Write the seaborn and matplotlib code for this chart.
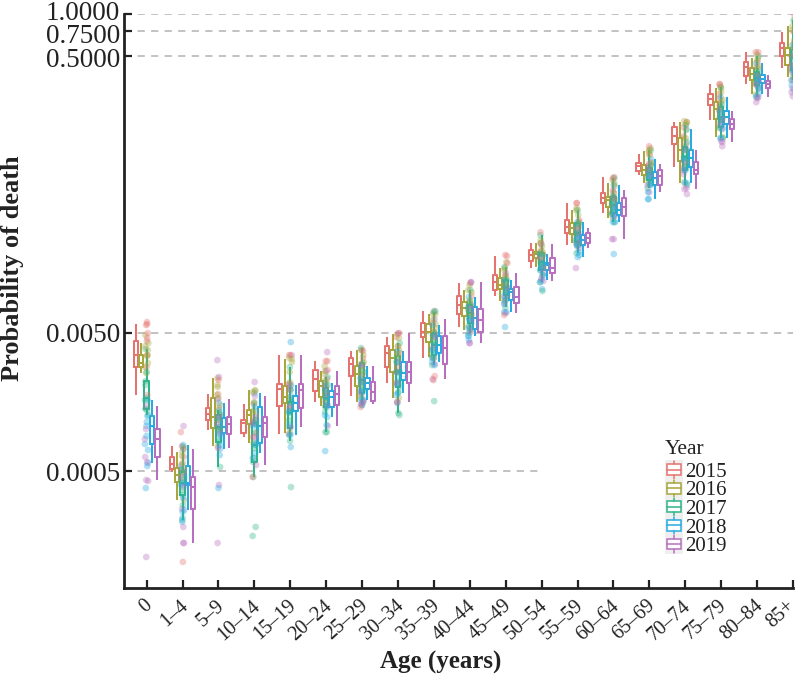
import numpy as np
import pandas as pd
import matplotlib.pyplot as plt
import seaborn as sns
from matplotlib.legend_handler import HandlerBase
from matplotlib.lines import Line2D
from matplotlib.patches import Patch, Rectangle
from matplotlib.transforms import ScaledTranslation

ages = ['0', '1–4', '5–9', '10–14', '15–19', '20–24', '25–29', '30–34', '35–39', '40–44',
        '45–49', '50–54', '55–59', '60–64', '65–69', '70–74', '75–79', '80–84', '85+']
years = ['2015', '2016', '2017', '2018', '2019']
colors = ['#E5736F', '#A8A63C', '#2FB58A', '#29ABE2', '#B96FC0']

# log10 of the probability, one row per age: whisker top, q3, median, q1, whisker bottom
y2015 = [[-2.240, -2.362, -2.464, -2.550, -2.752], [-3.121, -3.200, -3.251, -3.287, -3.308],
         [-2.745, -2.846, -2.890, -2.933, -3.005], [-2.817, -2.933, -2.954, -3.027, -3.056],
         [-2.464, -2.673, -2.709, -2.832, -3.034], [-2.507, -2.572, -2.637, -2.723, -2.803],
         [-2.435, -2.485, -2.528, -2.615, -2.760], [-2.334, -2.399, -2.449, -2.550, -2.666],
         [-2.146, -2.233, -2.297, -2.334, -2.485], [-1.944, -2.038, -2.103, -2.168, -2.261],
         [-1.749, -1.886, -1.937, -1.994, -2.038], [-1.655, -1.705, -1.741, -1.785, -1.835],
         [-1.366, -1.489, -1.539, -1.583, -1.669], [-1.178, -1.294, -1.330, -1.366, -1.438],
         [-1.012, -1.077, -1.099, -1.135, -1.164], [-0.781, -0.817, -0.882, -0.940, -1.106],
         [-0.507, -0.579, -0.615, -0.658, -0.767], [-0.276, -0.348, -0.384, -0.449, -0.507],
         [-0.131, -0.211, -0.247, -0.305, -0.391]]
y2016 = [[-2.377, -2.464, -2.521, -2.550, -2.594], [-3.164, -3.280, -3.330, -3.380, -3.510],
         [-2.630, -2.774, -2.911, -2.991, -3.121], [-2.716, -2.861, -2.897, -2.962, -3.099],
         [-2.492, -2.687, -2.767, -2.810, -3.027], [-2.579, -2.651, -2.687, -2.767, -2.832],
         [-2.427, -2.543, -2.601, -2.687, -2.803], [-2.312, -2.427, -2.485, -2.586, -2.774],
         [-2.168, -2.240, -2.297, -2.370, -2.478], [-1.994, -2.081, -2.124, -2.182, -2.283],
         [-1.835, -1.907, -1.958, -1.987, -2.074], [-1.655, -1.720, -1.734, -1.763, -1.828],
         [-1.417, -1.511, -1.547, -1.590, -1.655], [-1.222, -1.323, -1.344, -1.395, -1.474],
         [-0.991, -1.092, -1.128, -1.164, -1.222], [-0.781, -0.897, -0.983, -1.063, -1.222],
         [-0.536, -0.637, -0.687, -0.760, -0.890], [-0.319, -0.391, -0.435, -0.478, -0.579],
         [-0.088, -0.247, -0.298, -0.370, -0.456]]
y2017 = [[-2.420, -2.651, -2.774, -2.853, -2.897], [-3.128, -3.308, -3.388, -3.474, -3.655],
         [-2.861, -2.897, -2.983, -3.092, -3.272], [-2.810, -2.954, -3.113, -3.236, -3.344],
         [-2.550, -2.803, -2.882, -2.991, -3.084], [-2.622, -2.702, -2.774, -2.839, -3.020],
         [-2.413, -2.521, -2.644, -2.738, -2.825], [-2.377, -2.471, -2.586, -2.695, -2.882],
         [-2.153, -2.305, -2.391, -2.464, -2.536], [-1.994, -2.103, -2.160, -2.233, -2.305],
         [-1.828, -1.922, -1.973, -2.030, -2.117], [-1.597, -1.727, -1.792, -1.850, -1.937],
         [-1.417, -1.511, -1.583, -1.648, -1.727], [-1.186, -1.323, -1.380, -1.438, -1.503],
         [-0.983, -1.113, -1.149, -1.200, -1.258], [-0.803, -0.962, -1.034, -1.128, -1.236],
         [-0.529, -0.673, -0.745, -0.817, -0.897], [-0.305, -0.420, -0.464, -0.514, -0.601],
         [-0.045, -0.261, -0.319, -0.406, -0.478]]
y2018 = [[-2.788, -2.904, -2.976, -3.106, -3.243], [-3.113, -3.265, -3.388, -3.402, -3.583],
         [-2.810, -2.918, -2.983, -3.027, -3.142], [-2.738, -2.839, -2.976, -3.099, -3.171],
         [-2.680, -2.760, -2.810, -2.868, -3.041], [-2.666, -2.723, -2.767, -2.839, -2.911],
         [-2.543, -2.630, -2.666, -2.709, -2.788], [-2.435, -2.514, -2.594, -2.644, -2.738],
         [-2.247, -2.326, -2.391, -2.449, -2.514], [-2.045, -2.117, -2.196, -2.276, -2.326],
         [-1.922, -1.987, -2.009, -2.066, -2.153], [-1.734, -1.799, -1.814, -1.850, -1.922],
         [-1.503, -1.597, -1.633, -1.669, -1.756], [-1.236, -1.366, -1.417, -1.453, -1.503],
         [-1.048, -1.142, -1.186, -1.236, -1.337], [-0.832, -0.983, -1.041, -1.106, -1.222],
         [-0.601, -0.702, -0.745, -0.796, -0.897], [-0.355, -0.442, -0.471, -0.500, -0.579],
         [-0.225, -0.334, -0.377, -0.420, -0.514]]
y2019 = [[-2.832, -2.998, -3.070, -3.200, -3.366], [-3.142, -3.344, -3.417, -3.575, -3.821],
         [-2.781, -2.911, -2.962, -3.034, -3.135], [-2.760, -2.911, -2.954, -3.056, -3.258],
         [-2.464, -2.673, -2.716, -2.846, -2.983], [-2.579, -2.687, -2.745, -2.825, -2.976],
         [-2.543, -2.658, -2.731, -2.796, -2.817], [-2.305, -2.514, -2.586, -2.666, -2.803],
         [-2.204, -2.326, -2.413, -2.528, -2.637], [-1.937, -2.131, -2.211, -2.297, -2.377],
         [-1.871, -1.973, -2.045, -2.088, -2.160], [-1.662, -1.763, -1.835, -1.871, -1.929],
         [-1.547, -1.583, -1.619, -1.655, -1.691], [-1.272, -1.330, -1.395, -1.460, -1.626],
         [-1.084, -1.128, -1.171, -1.236, -1.287], [-0.983, -1.070, -1.128, -1.157, -1.265],
         [-0.702, -0.760, -0.796, -0.832, -0.926], [-0.442, -0.485, -0.507, -0.536, -0.601],
         [-0.298, -0.370, -0.420, -0.478, -0.565]]

# dots read from the crowded column of each age group, log10, one row per age
dense_2016 = [[-2.319, -2.399, -2.471], [-3.135, -3.193, -3.243], [-2.680, -2.752, -2.825], [-2.731, -2.803, -2.875],
              [-2.514, -2.586, -2.658], [-2.543, -2.601, -2.658], [-2.464, -2.514, -2.572], [-2.341, -2.399, -2.456],
              [-2.168, -2.211, -2.269], [-1.958, -2.009, -2.066], [-1.792, -1.850, -1.893], [-1.633, -1.677, -1.720],
              [-1.402, -1.453, -1.503], [-1.200, -1.243, -1.287], [-0.969, -1.019, -1.070], [-0.796, -0.839, -0.897],
              [-0.521, -0.565, -0.622], [-0.290, -0.334, -0.377], [-0.045, -0.117, -0.189]]
dense_2017 = [[-2.586, -2.680, -2.788, -2.861], [-3.294, -3.352, -3.438, -3.547], [-2.875, -2.933, -3.005, -3.077],
              [-2.933, -3.020, -3.135, -3.207], [-2.716, -2.788, -2.861, -2.933], [-2.680, -2.738, -2.803, -2.875],
              [-2.586, -2.658, -2.716, -2.774], [-2.514, -2.586, -2.658, -2.731], [-2.319, -2.370, -2.427, -2.485],
              [-2.081, -2.139, -2.196, -2.254], [-1.922, -1.965, -2.009, -2.066], [-1.741, -1.792, -1.835, -1.886],
              [-1.525, -1.575, -1.619, -1.669], [-1.316, -1.359, -1.402, -1.446], [-1.092, -1.142, -1.186, -1.229],
              [-0.926, -0.983, -1.041, -1.099], [-0.651, -0.709, -0.767, -0.825], [-0.406, -0.449, -0.492, -0.536],
              [-0.225, -0.298, -0.370, -0.442]]
dense_2018 = [[-2.947, -3.048, -3.149], [-3.496, -3.597, -3.669], [-3.048, -3.113, -3.186], [-2.969, -3.113, -3.207],
              [-2.875, -2.969, -3.041], [-2.825, -2.897, -2.969], [-2.731, -2.788, -2.825], [-2.680, -2.752, -2.810],
              [-2.427, -2.485, -2.536], [-2.211, -2.269, -2.326], [-2.038, -2.095, -2.153], [-1.835, -1.886, -1.937],
              [-1.619, -1.677, -1.720], [-1.402, -1.460, -1.503], [-1.171, -1.229, -1.287], [-1.056, -1.128, -1.214],
              [-0.767, -0.825, -0.897], [-0.478, -0.536, -0.594], [-0.406, -0.478, -0.550]]

# stray points outside the boxes, log10 again
out_age = ['0', '0', '0', '0', '0', '0', '0', '0', '0', '0',
           '1–4', '1–4', '1–4', '1–4', '1–4', '1–4',
           '5–9', '5–9', '5–9', '5–9', '5–9', '5–9', '5–9',
           '10–14', '10–14', '10–14', '10–14', '10–14',
           '15–19', '15–19', '15–19', '15–19', '15–19',
           '20–24', '20–24', '20–24', '20–24',
           '25–29', '25–29', '25–29', '30–34', '30–34', '30–34',
           '35–39', '35–39', '35–39', '35–39', '40–44', '40–44', '40–44',
           '45–49', '45–49', '45–49', '45–49', '50–54', '50–54', '50–54', '50–54',
           '55–59', '55–59', '55–59', '60–64', '60–64', '60–64',
           '65–69', '65–69', '65–69', '70–74', '70–74', '70–74',
           '75–79', '75–79', '75–79', '80–84', '80–84', '80–84', '85+', '85+', '85+']
out_year = ['2015', '2015', '2015', '2015', '2016', '2019', '2018', '2019', '2018', '2019',
            '2019', '2015', '2015', '2018', '2019', '2019',
            '2019', '2019', '2015', '2016', '2019', '2018', '2019',
            '2019', '2016', '2015', '2017', '2017',
            '2018', '2015', '2016', '2018', '2017',
            '2019', '2015', '2018', '2017',
            '2015', '2015', '2019', '2015', '2017', '2015',
            '2017', '2015', '2015', '2017', '2019', '2018', '2019',
            '2015', '2015', '2015', '2018', '2015', '2018', '2017', '2019',
            '2015', '2018', '2019', '2019', '2018', '2015',
            '2015', '2018', '2016', '2016', '2019', '2019',
            '2015', '2019', '2019', '2015', '2019', '2019', '2015', '2019', '2019']
out_val = [-2.225, -2.247, -2.305, -2.341, -2.427, -3.373, -3.424, -3.922, -3.265, -3.236,
           -2.976, -3.020, -3.958, -3.640, -3.705, -3.821,
           -2.500, -2.622, -2.644, -2.695, -3.402, -3.424, -3.821,
           -2.658, -2.723, -3.344, -3.705, -3.770,
           -2.370, -2.464, -2.485, -3.128, -3.417,
           -2.442, -2.507, -3.157, -3.020,
           -2.427, -2.839, -2.810, -2.305, -2.897, -2.803,
           -2.146, -2.615, -2.644, -2.796, -1.937, -2.355, -2.377,
           -1.741, -1.799, -2.175, -2.261, -1.576, -1.987, -2.001, -1.908,
           -1.366, -1.741, -1.835, -1.626, -1.734, -1.186,
           -0.955, -1.337, -0.983, -0.774, -1.301, -1.258,
           -0.507, -0.955, -0.919, -0.276, -0.637, -0.608, -0.009, -0.594, -0.536]

ytick_vals = [0.0005, 0.005, 0.5, 0.75, 1.0]

rows = []
for year, table in zip(years, [y2015, y2016, y2017, y2018, y2019]):
    for age, stats in zip(ages, table):
        for v in stats:
            rows.append({'age': age, 'year': year, 'prob': 10 ** v})
df = pd.DataFrame(rows)

rows = []
for year, table in zip(['2016', '2017', '2018'], [dense_2016, dense_2017, dense_2018]):
    for age, vals in zip(ages, table):
        for v in vals:
            rows.append({'age': age, 'year': year, 'prob': 10 ** v})
df_dense = pd.DataFrame(rows)
df_out = pd.DataFrame({'age': out_age, 'year': out_year, 'prob': 10 ** np.array(out_val)})
df_pts = pd.concat([df, df_dense, df_out], ignore_index=True)


class BoxKey(HandlerBase):
    # little boxplot glyph on a grey tile, like the ggplot legend key
    def create_artists(self, legend, orig_handle, xd, yd, w, h, fontsize, trans):
        c = orig_handle.get_edgecolor()
        x0, y0 = -xd, -yd - 0.12 * h
        hh = 1.22 * h
        bg = Rectangle((x0, y0), w, hh, fc='#EFEFEF', ec='none', transform=trans)
        box = Rectangle((x0 + 0.12 * w, y0 + 0.22 * hh), 0.76 * w, 0.56 * hh, fc='white', ec=c, lw=1.1, transform=trans)
        med = Line2D([x0 + 0.12 * w, x0 + 0.88 * w], [y0 + 0.5 * hh] * 2, color=c, lw=1.1, transform=trans)
        wh1 = Line2D([x0 + 0.5 * w] * 2, [y0 + 0.05 * hh, y0 + 0.22 * hh], color=c, lw=1.1, transform=trans)
        wh2 = Line2D([x0 + 0.5 * w] * 2, [y0 + 0.78 * hh, y0 + 0.95 * hh], color=c, lw=1.1, transform=trans)
        return [bg, box, med, wh1, wh2]


sns.set_style('ticks')
plt.rcParams['font.family'] = ['Liberation Serif', 'DejaVu Serif']
plt.rcParams['text.color'] = '#222222'
plt.rcParams['axes.labelcolor'] = '#222222'
plt.rcParams['xtick.labelcolor'] = '#222222'
plt.rcParams['ytick.labelcolor'] = '#222222'

fig = plt.figure(figsize=(8, 6.77), dpi=100)
ax = fig.add_axes([124 / 800, 89 / 677, 669 / 800, 574 / 677])

palette = dict(zip(years, colors))

# dashed guides
for v in [0.005, 0.5, 0.75, 1.0]:
    ax.axhline(v, color='#BDBDBD', lw=1.3, dashes=(4, 3.5), zorder=0)
ax.axhline(0.0005, xmax=0.619, color='#BDBDBD', lw=1.3, dashes=(4, 3.5), zorder=0)

sns.boxplot(data=df, x='age', y='prob', hue='year', order=ages, hue_order=years, palette=palette,
            whis=(0, 100), showfliers=False, showcaps=False, fill=False, width=0.75, gap=0.2,
            linewidth=1.45, log_scale=True, legend=False, ax=ax)
sns.stripplot(data=df_pts, x='age', y='prob', hue='year', order=ages, hue_order=years, palette=palette,
              dodge=False, jitter=0.05, size=4.8, alpha=0.36, linewidth=0, log_scale=True, legend=False, ax=ax)

ax.set_xlim(-0.63, 18.0)
ax.set_ylim(10 ** -4.146, 1.0)
ax.set_yticks(ytick_vals)
ax.set_yticklabels(['%.4f' % v for v in ytick_vals], fontsize=19.5)
ax.minorticks_off()
ax.tick_params(axis='y', which='major', direction='in', length=6, width=1.6, color='#222222', pad=3)
ax.tick_params(axis='x', which='major', direction='in', length=6, width=1.6, color='#222222', pad=6)
ax.set_xticks(range(len(ages)))
ax.set_xticklabels(ages, fontsize=14.5, rotation=42, ha='right', va='top', rotation_mode='anchor')

# the three top labels sit too close, spread them a bit like the original
for lab, dy in zip(ax.get_yticklabels(), [0, 0, -2, -2, 3.5]):
    lab.set_transform(lab.get_transform() + ScaledTranslation(0, dy / 100, fig.dpi_scale_trans))
for lab, dx in zip(ax.get_xticklabels(), [-3] * 18 + [-7]):
    lab.set_transform(lab.get_transform() + ScaledTranslation(dx / 100, 0, fig.dpi_scale_trans))

ax.spines['top'].set_visible(False)
ax.spines['right'].set_visible(False)
ax.spines['left'].set_linewidth(2)
ax.spines['bottom'].set_linewidth(2)
ax.spines['left'].set_color('#222222')
ax.spines['bottom'].set_color('#222222')

ax.set_xlabel('Age (years)', fontsize=18, fontweight='bold', va='center')
ax.xaxis.set_label_coords(0.474, -0.129)
ax.set_ylabel('Probability of death', fontsize=19, fontweight='bold', va='center')
ax.yaxis.set_label_coords(-0.166, 0.558)

handles = [Patch(edgecolor=c, facecolor='none') for c in colors]
leg = ax.legend(handles, years, title='Year', handler_map={Patch: BoxKey()}, frameon=False, fontsize=15,
                title_fontsize=15.5, loc='upper left', bbox_to_anchor=(0.808, 0.258), borderpad=0, borderaxespad=0,
                labelspacing=-0.08, handlelength=0.88, handleheight=0.8, handletextpad=0.1)
leg._legend_box.align = 'left'
leg._legend_box.sep = 2

fig.savefig('out.png', dpi=100)
